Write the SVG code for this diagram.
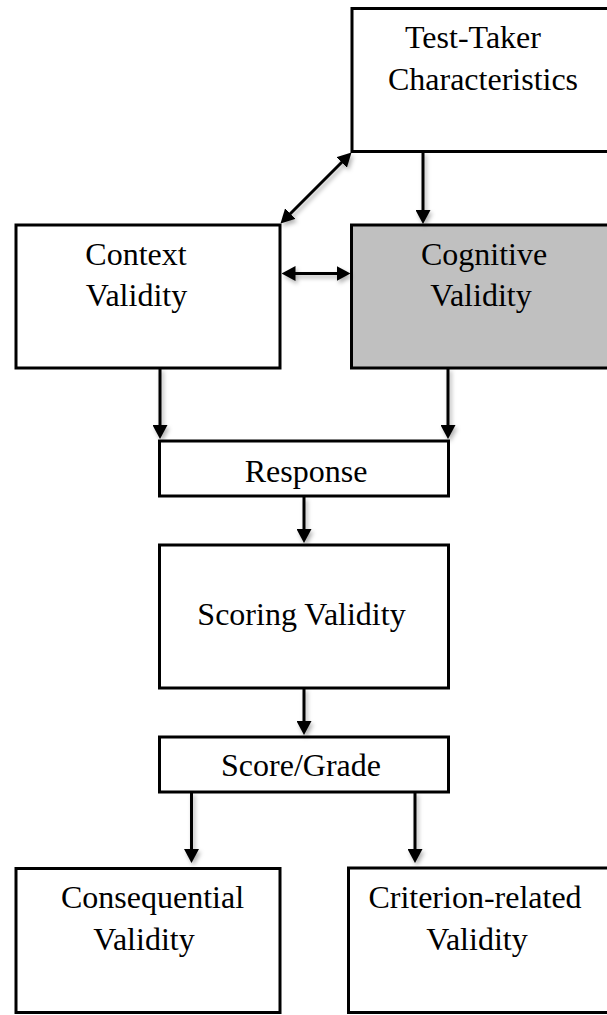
<svg xmlns="http://www.w3.org/2000/svg" width="607" height="1015" viewBox="0 0 607 1015">
  <style>
    .box { fill: #ffffff; stroke: #000000; stroke-width: 3; }
    .shaded { fill: #c0c0c0; }
    .label { font-family: "Liberation Serif", "Times New Roman", serif; font-size: 32px; fill: #000000; text-anchor: middle; }
    .conn { stroke: #000000; stroke-width: 3; fill: none; }
  </style>
  <defs>
    <marker id="head" viewBox="0 0 14 15" refX="2" refY="7.5" markerWidth="14" markerHeight="15" markerUnits="userSpaceOnUse" orient="auto-start-reverse">
      <path d="M0,0 L14,7.5 L0,15 z" fill="#000000"/>
    </marker>
    <filter id="soft" x="-50%" y="-50%" width="200%" height="200%">
      <feDropShadow dx="2" dy="3" stdDeviation="2" flood-color="#000000" flood-opacity="0.3"/>
    </filter>
  </defs>

  <rect width="607" height="1015" fill="#ffffff"/>

  <g id="test-taker">
    <rect class="box" x="352" y="8.5" width="270" height="143"/>
    <text class="label" x="473" y="48">Test-Taker</text>
    <text class="label" x="483" y="90">Characteristics</text>
  </g>

  <g id="context-validity">
    <rect class="box" x="16" y="225" width="264" height="143"/>
    <text class="label" x="136" y="265">Context</text>
    <text class="label" x="136.5" y="306">Validity</text>
  </g>

  <g id="cognitive-validity">
    <rect class="box shaded" x="351.5" y="225" width="270" height="143"/>
    <text class="label" x="484" y="265">Cognitive</text>
    <text class="label" x="481" y="306">Validity</text>
  </g>

  <g id="response">
    <rect class="box" x="159.5" y="441" width="289" height="55"/>
    <text class="label" x="306" y="482">Response</text>
  </g>

  <g id="scoring-validity">
    <rect class="box" x="159.5" y="545" width="289" height="143"/>
    <text class="label" x="301.5" y="625">Scoring Validity</text>
  </g>

  <g id="score-grade">
    <rect class="box" x="159.5" y="737" width="289" height="55"/>
    <text class="label" x="301" y="776">Score/Grade</text>
  </g>

  <g id="consequential-validity">
    <rect class="box" x="16" y="868.5" width="264" height="144"/>
    <text class="label" x="152.5" y="908">Consequential</text>
    <text class="label" x="144" y="950">Validity</text>
  </g>

  <g id="criterion-validity">
    <rect class="box" x="348.5" y="868" width="274" height="144.5"/>
    <text class="label" x="475" y="908">Criterion-related</text>
    <text class="label" x="477" y="950">Validity</text>
  </g>

  <g id="connectors" filter="url(#soft)">
    <line class="conn" x1="423" y1="152" x2="423" y2="212" marker-end="url(#head)"/>
    <line class="conn" x1="289" y1="215" x2="343" y2="161" marker-start="url(#head)" marker-end="url(#head)"/>
    <line class="conn" x1="293.5" y1="273.5" x2="338.5" y2="273.5" marker-start="url(#head)" marker-end="url(#head)"/>
    <line class="conn" x1="160" y1="368" x2="160" y2="427" marker-end="url(#head)"/>
    <line class="conn" x1="448" y1="368" x2="448" y2="427" marker-end="url(#head)"/>
    <line class="conn" x1="304" y1="497" x2="304" y2="531" marker-end="url(#head)"/>
    <line class="conn" x1="304" y1="688" x2="304" y2="723" marker-end="url(#head)"/>
    <line class="conn" x1="191.5" y1="792" x2="191.5" y2="851" marker-end="url(#head)"/>
    <line class="conn" x1="415" y1="792" x2="415" y2="851" marker-end="url(#head)"/>
  </g>
</svg>
